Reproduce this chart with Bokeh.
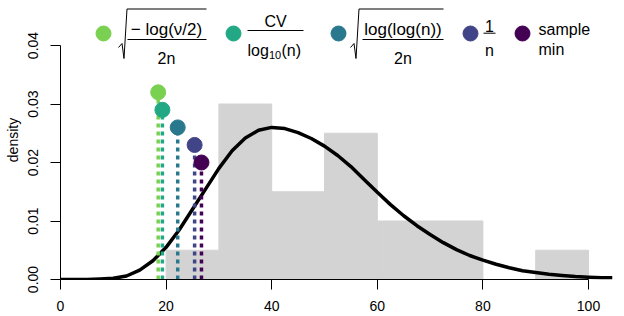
from bokeh.plotting import figure
from bokeh.models import Range1d, FixedTicker, Label
from bokeh.embed import file_html
from bokeh.resources import INLINE

# ---------------- data ----------------
bin_left = [20, 30, 40, 50, 60, 70, 80, 90]
bin_right = [30, 40, 50, 60, 70, 80, 90, 100]
bin_density = [0.005, 0.030, 0.015, 0.025, 0.010, 0.010, 0.000, 0.005]

curve_x = [0, 5, 7.5, 10, 12.5, 15, 17.5, 20, 22.5, 25, 27.5, 30, 32.5, 35,
           37.5, 40, 42.5, 45, 47.5, 50, 52.5, 55, 57.5, 60, 62.5, 65, 67.5,
           70, 72.5, 75, 77.5, 80, 82.5, 85, 87.5, 90, 92.5, 95, 97.5, 100,
           102.5, 104.5]
curve_y = [0.0, 0.0, 0.0001, 0.0002, 0.0006, 0.0016, 0.0032, 0.0055, 0.0085,
           0.0120, 0.0155, 0.0190, 0.0220, 0.0242, 0.0255, 0.0260, 0.0258,
           0.0251, 0.0241, 0.0228, 0.0212, 0.0193, 0.0171, 0.0149, 0.0128,
           0.0109, 0.0092, 0.0077, 0.0063, 0.0051, 0.0041, 0.0033, 0.0026,
           0.0020, 0.0015, 0.0012, 0.0009, 0.0007, 0.0005, 0.0004, 0.0003,
           0.0003]

est_x = [18.5, 19.3, 22.2, 25.4, 26.7]
est_y = [0.032, 0.029, 0.026, 0.023, 0.020]
est_colors = ["#7AD151", "#22A884", "#2A788E", "#414487", "#440154"]

x_ticks = [0, 20, 40, 60, 80, 100]
y_ticks = [0.0, 0.01, 0.02, 0.03, 0.04]
y_tick_labels = ["0.00", "0.01", "0.02", "0.03", "0.04"]

# ---------------- layout helpers (reference pixel -> data) ----------------
PX0, PXS = 60.0, 5.28      # page pixel of x = 0, pixels per x unit
PY0, PYS = 279.0, 5850.0   # page pixel of y = 0, pixels per y unit


def X(px):
    return (px - PX0) / PXS


def Y(py):
    return (PY0 - py) / PYS


FONT = "Liberation Sans"
AX_FS = "14px"
LG_FS = "16px"

p = figure(width=624, height=316, output_backend="svg", toolbar_location=None,
           x_range=Range1d(0, X(614)), y_range=Range1d(0, Y(0)),
           min_border_left=60, min_border_right=10, min_border_top=0,
           min_border_bottom=37, background_fill_color="white")
p.outline_line_color = None
p.grid.visible = False

# axes
p.xaxis.ticker = FixedTicker(ticks=x_ticks)
p.xaxis.bounds = (0, 100)
p.yaxis.ticker = FixedTicker(ticks=y_ticks)
p.yaxis.bounds = (0, 0.04)
p.yaxis.major_label_overrides = dict(zip(y_ticks, y_tick_labels))
p.yaxis.major_label_orientation = "vertical"
for ax in (p.xaxis, p.yaxis):
    ax.major_tick_out = 10
    ax.major_tick_in = 0
    ax.minor_tick_line_color = None
    ax.axis_line_color = "black"
    ax.major_tick_line_color = "black"
    ax.major_label_text_font = FONT
    ax.major_label_text_font_size = AX_FS
    ax.major_label_text_color = "black"
p.xaxis.major_label_standoff = 11
p.yaxis.major_label_standoff = 13
p.yaxis.axis_label = "density"
p.yaxis.axis_label_text_font = FONT
p.yaxis.axis_label_text_font_size = AX_FS
p.yaxis.axis_label_text_font_style = "normal"
p.yaxis.axis_label_text_color = "black"
p.yaxis.axis_label_standoff = 4

# histogram
p.quad(left=bin_left, right=bin_right, bottom=0, top=bin_density,
       fill_color="#D3D3D3", line_color="#D3D3D3", line_width=1)

# density curve
p.line(curve_x, curve_y, line_width=3.5, line_color="black")

# estimates: dotted verticals + points
p.segment(x0=est_x, y0=[0] * len(est_x), x1=est_x, y1=est_y,
          line_color=est_colors, line_width=3.5, line_dash="4 4")
p.scatter(est_x, est_y, size=15, fill_color=est_colors, line_color=est_colors)

# ---------------- legend (drawn manually) ----------------
legend_marker_px = [103, 233, 338, 470, 522]
p.scatter([X(v) for v in legend_marker_px], [Y(33)] * 5, size=15,
          fill_color=est_colors, line_color=est_colors)


def pline(pxs, pys):
    p.line([X(v) for v in pxs], [Y(v) for v in pys], line_color="black",
           line_width=1)


def ptext(px, py, txt, align="center", size=LG_FS):
    p.add_layout(Label(x=X(px), y=Y(py), text=txt, text_align=align,
                       text_baseline="alphabetic", text_font=FONT,
                       text_font_size=size, text_color="black"))


# item 1: sqrt(-log(nu/2) / 2n)
pline([118, 121.5, 123.5, 126.5, 206], [47, 43, 58, 8.5, 8.5])
pline([127, 206], [39, 39])
ptext(166, 29, "\u2212 log(\u03bd/2)", size="17px")
ptext(166, 58, "2n")

# item 2: CV / log10(n)
ptext(275, 21, "CV")
pline([247, 303], [30, 30])
ptext(247, 50, "log", align="left")
ptext(268.5, 54, "10", align="left", size="11px")
ptext(281, 50, "(n)", align="left")

# item 3: sqrt(log(log(n)) / 2n)
pline([350, 353.5, 355.5, 358.5, 443], [47, 43, 58, 8.5, 8.5])
pline([362, 443], [39, 39])
ptext(402.5, 29, "log(log(n))", size="17px")
ptext(402.5, 58, "2n")

# item 4: 1/n
ptext(489, 25, "1")
pline([483, 495], [32.7, 32.7])
ptext(489, 50, "n")

# item 5: sample min
ptext(538, 28.5, "sample", align="left")
ptext(538, 48.5, "min", align="left")

open("out.html", "w").write(file_html(p, INLINE))
